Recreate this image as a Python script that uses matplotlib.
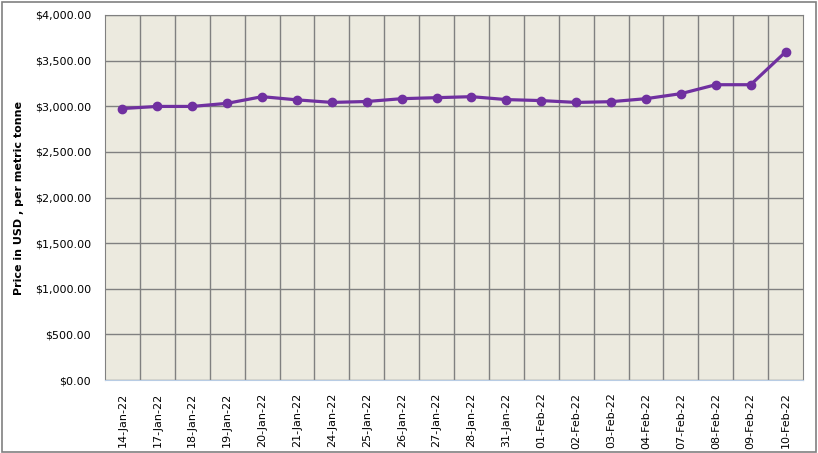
import matplotlib.pyplot as plt
from matplotlib.patches import Rectangle
from matplotlib.ticker import FuncFormatter

dates = ['14-Jan-22', '17-Jan-22', '18-Jan-22', '19-Jan-22', '20-Jan-22', '21-Jan-22',
         '24-Jan-22', '25-Jan-22', '26-Jan-22', '27-Jan-22', '28-Jan-22', '31-Jan-22',
         '01-Feb-22', '02-Feb-22', '03-Feb-22', '04-Feb-22', '07-Feb-22', '08-Feb-22',
         '09-Feb-22', '10-Feb-22']
prices = [2975, 2998, 2998, 3032, 3105, 3070, 3042, 3052, 3083, 3094, 3105, 3073,
          3062, 3042, 3050, 3083, 3138, 3236, 3236, 3595]
y_ticks = [0, 500, 1000, 1500, 2000, 2500, 3000, 3500, 4000]

fig = plt.figure(figsize=(8.18, 4.53), dpi=100)
fig.patches.append(Rectangle((0.002, 0.003), 0.996, 0.993, transform=fig.transFigure,
                             fill=False, edgecolor='#808080', linewidth=1.2))
ax = fig.add_axes([0.1284, 0.1611, 0.8533, 0.8058])
ax.set_facecolor('#ECEADF')

x = list(range(len(dates)))
ax.plot(x, prices, color='#7030A0', linewidth=2.3, marker='o', markersize=6, zorder=3)

ax.set_xlim(-0.5, len(dates) - 0.5)
ax.set_ylim(0, 4000)
ax.set_yticks(y_ticks)
ax.yaxis.set_major_formatter(FuncFormatter(lambda v, p: '${:,.2f}'.format(v)))
ax.set_xticks(x)
ax.set_xticklabels(dates, rotation=90, fontsize=8)
ax.set_xticks([i + 0.5 for i in x[:-1]], minor=True)
ax.tick_params(axis='y', labelsize=8, length=0, pad=10)
ax.tick_params(axis='x', which='both', length=0, pad=9)

ax.grid(True, axis='y', which='major', color='#808080', linewidth=1)
ax.grid(True, axis='x', which='minor', color='#808080', linewidth=1)
for s in ['top', 'right', 'left']:
    ax.spines[s].set_color('#808080')
ax.spines['bottom'].set_color('#B8CCE4')
ax.set_axisbelow(True)

ax.set_ylabel('Price in USD , per metric tonne', fontsize=8, fontweight='bold', labelpad=8)

fig.savefig('out.png', dpi=100)
